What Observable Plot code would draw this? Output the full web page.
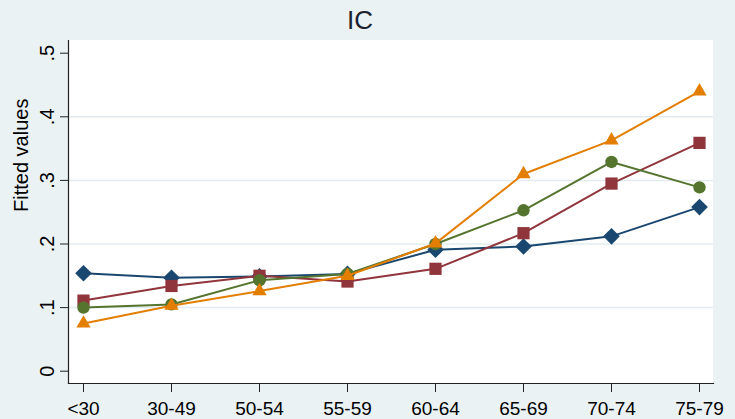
<!DOCTYPE html>
<html>
<head>
<meta charset="utf-8">
<script src="https://cdn.jsdelivr.net/npm/d3@7"></script>
<script src="https://cdn.jsdelivr.net/npm/@observablehq/plot@0.6"></script>
<style>
  html, body { margin: 0; padding: 0; background: #EAF2F3; }
  #wrap { width: 735px; height: 419px; position: relative; background: #EAF2F3; overflow: hidden; }
  #title { height: 40px; width: 735px; position: relative; font-family: "Liberation Sans", Arial, sans-serif; font-size: 26px; color: #1b1f2e; }
  #title span { position: absolute; left: 360px; top: 5px; transform: translateX(-50%); line-height: 30px; }
  svg { display: block; }
</style>
</head>
<body>
<div id="wrap">
  <div id="title"><span>IC</span></div>
  <div id="chart"></div>
</div>
<script>
const ages = ["<30", "30-49", "50-54", "55-59", "60-64", "65-69", "70-74", "75-79"];
const seriesNames = ["s1", "s2", "s3", "s4"];
const navyValues   = [0.154, 0.147, 0.149, 0.153, 0.191, 0.196, 0.212, 0.258];
const maroonValues = [0.111, 0.134, 0.150, 0.141, 0.161, 0.217, 0.295, 0.359];
const greenValues  = [0.100, 0.105, 0.143, 0.153, 0.200, 0.253, 0.329, 0.289];
const orangeValues = [0.075, 0.103, 0.126, 0.150, 0.201, 0.310, 0.363, 0.440];
const yTicks = [0, 0.1, 0.2, 0.3, 0.4, 0.5];
const gridTicks = [0.1, 0.2, 0.3, 0.4];
const yLabel = "Fitted values";

const seriesStyle = [
  {values: navyValues,   color: "#1a476f", symbol: "diamond2", r: 7.5},
  {values: maroonValues, color: "#90353b", symbol: "square",   r: 6.9},
  {values: greenValues,  color: "#55752f", symbol: "circle",   r: 6.2},
  {values: orangeValues, color: "#e37e00", symbol: "triangle", r: 5.3}
];

const fmt = d => d === 0 ? "0" : d3.format(".1f")(d).replace(/^0/, "");

const marks = [
  Plot.gridY(gridTicks, {stroke: "#e2ecee", strokeOpacity: 1, strokeWidth: 1.5}),
  Plot.frame({anchor: "left", stroke: "#222", strokeWidth: 1.2}),
  Plot.frame({anchor: "bottom", stroke: "#222", strokeWidth: 1.2}),
  Plot.axisX({tickSize: 9, tickPadding: 9, fontSize: 19, label: null, stroke: "#222", fill: "#000"}),
  Plot.axisY({ticks: yTicks, tickSize: 8, tickPadding: 7, tickRotate: -90, tickFormat: fmt, fontSize: 20, label: null, stroke: "#222", fill: "#000"}),
  Plot.text([yLabel], {frameAnchor: "left", dx: -47, rotate: -90, fontSize: 20, fill: "#000"})
];

seriesStyle.forEach((s, k) => {
  const data = ages.map((a, i) => ({age: a, value: s.values[i], series: seriesNames[k]}));
  marks.push(Plot.line(data, {x: "age", y: "value", stroke: s.color, strokeWidth: 2}));
  marks.push(Plot.dot(data, {x: "age", y: "value", fill: s.color, stroke: "none", symbol: () => s.symbol, r: s.r}));
});

const chart = Plot.plot({
  width: 735,
  height: 379,
  marginTop: 0,
  marginBottom: 36,
  marginLeft: 68,
  marginRight: 22,
  style: {background: "#ffffff00", fontFamily: "'Liberation Sans', Arial, sans-serif", overflow: "visible"},
  x: {type: "point", domain: ages, padding: 0.156, axis: null},
  y: {domain: [-0.01934, 0.51997], axis: null},
  marks
});

// white plot region
const svg = d3.select(chart);
svg.insert("rect", ":first-child")
  .attr("x", 68).attr("y", 0).attr("width", 735 - 68 - 22).attr("height", 343)
  .attr("fill", "#ffffff");
document.getElementById("chart").appendChild(chart);
</script>
</body>
</html>
